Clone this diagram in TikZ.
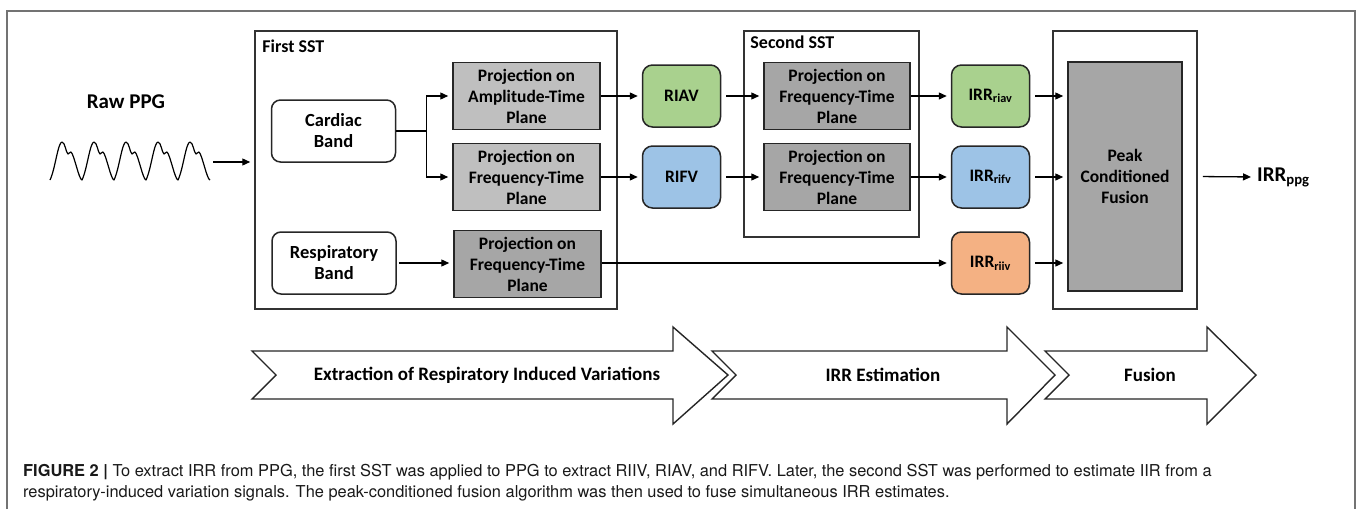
\documentclass[tikz,border=0pt]{standalone}
\usepackage{fontspec}
\setmainfont{Carlito}
\newfontfamily\capfont{TeX Gyre Heros}
\usepackage{xcolor}
\usetikzlibrary{arrows.meta}
\usetikzlibrary{positioning}
\definecolor{projlight}{HTML}{BFBFBF}
\definecolor{projdark}{HTML}{A6A6A6}
\definecolor{riavgreen}{HTML}{A9D18E}
\definecolor{rifvblue}{HTML}{9DC3E6}
\definecolor{riivred}{HTML}{F4B183}

\begin{document}
\begin{tikzpicture}[x=1pt,y=-1pt]
\tikzset{bandbox/.style={rectangle,rounded corners=9pt,draw=black!85,line width=1.5pt,minimum width=124pt,minimum height=62pt,align=center,font=\fontsize{18.5}{21}\selectfont\bfseries},
projbox/.style={rectangle,draw=black!85,line width=1.5pt,fill=projlight,minimum width=147pt,minimum height=67pt,align=center,inner sep=0pt,font=\fontsize{17.5}{21}\selectfont\bfseries},
sigbox/.style={rectangle,rounded corners=10pt,draw=black!85,line width=1.5pt,minimum width=78pt,minimum height=62pt,align=center,font=\fontsize{17.5}{21}\selectfont\bfseries},
sstframe/.style={rectangle,draw=black!80,line width=1.5pt,inner sep=0pt},
flow/.style={line width=1.3pt,-{Triangle[length=8pt,width=7pt]},shorten <=5pt,shorten >=4pt},
stagearrow/.style={draw=black!85,line width=1.4pt,fill=white,line join=miter},
stagelabel/.style={font=\fontsize{19}{22}\selectfont\bfseries},
caption/.style={inner sep=0pt,text=black!90,font=\capfont\fontsize{16.4}{21}\selectfont}}
\useasboundingbox (0,0) rectangle (1357,509);
\draw[black!55,line width=1.2pt] (7,509) -- (7,11) -- (1355,11) -- (1355,509);
\node[sstframe,minimum width=362pt,minimum height=278pt](sst1) at (436,170){};
\node[sstframe,minimum width=175pt,minimum height=206pt](sst2) at (831.5,134){};
\node[sstframe,minimum width=144pt,minimum height=278pt](fusframe) at (1125,170){};
\node[anchor=west,font=\fontsize{18}{21}\selectfont\bfseries,inner sep=0pt] at ([xshift=8pt,yshift=-16pt]sst1.north west){First SST};
\node[anchor=west,font=\fontsize{18}{21}\selectfont\bfseries,inner sep=0pt] at ([xshift=7pt,yshift=-12pt]sst2.north west){Second SST};
\node[font=\fontsize{21}{25}\selectfont\bfseries](raw) at (126,102){Raw PPG};
\draw[line width=1.2pt,line join=round] (50,180) \foreach \k [evaluate=\k as \o using 50+32*\k] in {0,...,4}{
 .. controls ({\o+5},170) and ({\o+8},142) .. ({\o+12},142)
 .. controls ({\o+15},142) and ({\o+16},153) .. ({\o+18},154)
 .. controls ({\o+19},154.5) and ({\o+20},151) .. ({\o+21},152)
 .. controls ({\o+24},154) and ({\o+29},180) .. ({\o+32},180)};
\coordinate (ppgout) at (208,162);
\node[bandbox](card) at (333.5,131){Cardiac\\Band};
\node[bandbox](resp) at (334,263){Respiratory\\Band};
\node[projbox](proj1) at (526.5,96){Projection on\\Amplitude-Time\\Plane};
\node[projbox](proj2) at (526.5,177){Projection on\\Frequency-Time\\Plane};
\node[projbox,fill=projdark](proj3) at (527.5,264){Projection on\\Frequency-Time\\Plane};
\node[sigbox,fill=riavgreen](riav)[right=41pt of proj1]{RIAV};
\node[sigbox,fill=rifvblue](rifv)[right=41pt of proj2]{RIFV};
\node[projbox,fill=projdark,minimum width=146pt](proj4)[right=42pt of riav]{Projection on\\Frequency-Time\\Plane};
\node[projbox,fill=projdark,minimum width=146pt](proj5)[right=42pt of rifv]{Projection on\\Frequency-Time\\Plane};
\node[sigbox,fill=riavgreen](irriav)[right=40pt of proj4]{IRR\textsubscript{riav}};
\node[sigbox,fill=rifvblue](irrifv)[right=40pt of proj5]{IRR\textsubscript{rifv}};
\node[sigbox,fill=riivred](irriiv) at (irrifv |- resp){IRR\textsubscript{riiv}};
\node[projbox,fill=projdark,minimum width=114pt,minimum height=229pt](fusion) at (1125,176.5){Peak\\Conditioned\\Fusion};
\node[anchor=west,inner sep=2pt,font=\fontsize{21}{25}\selectfont\bfseries](irrppg) at (1255,177){IRR\textsubscript{ppg}};
\draw[flow] (ppgout) -- (ppgout -| sst1.west);
\draw[line width=1.3pt,shorten <=0pt] (card.east) -- ++(30,0) coordinate (split);
\draw[flow,shorten <=0pt] (split) |- (proj1.west);
\draw[flow,shorten <=0pt] (split) |- (proj2.west);
\draw[flow,shorten <=2pt] (resp.east) -- (proj3.west |- resp);
\draw[flow,shorten <=0pt] (proj1.east) -- (riav.west);
\draw[flow,shorten <=0pt] (proj2.east) -- (rifv.west);
\draw[flow] (riav.east) -- (proj4.west);
\draw[flow] (rifv.east) -- (proj5.west);
\draw[flow,shorten <=0pt] (proj4.east) -- (irriav.west);
\draw[flow,shorten <=0pt] (proj5.east) -- (irrifv.west);
\draw[flow,shorten <=0pt] (proj3.east |- resp) -- (irriiv.west);
\draw[flow] (irriav.east) -- (fusion.west |- irriav);
\draw[flow] (irrifv.east) -- (fusion.west |- irrifv);
\draw[flow] (irriiv.east) -- (fusion.west |- irriiv);
\draw[flow] (fusframe.east |- fusion) -- (irrppg.west);
\foreach \l/\h/\t/\c/\name/\txt in {252/673/728/487/stage1/Extraction of Respiratory Induced Variations,712/1007/1055/883/stage2/IRR Estimation,1045/1207/1256/1150/stage3/Fusion}{
 \draw[stagearrow] (\l,351) -- (\h,351) -- (\h,327) -- (\t,375) -- (\h,424) -- (\h,399) -- (\l,399) -- ({\l+24},375) -- cycle;
 \node[stagelabel](\name) at (\c,375){\txt};
}
\node[caption,anchor=base west](cap1) at (23,476){\textbf{FIGURE 2 |} To extract IRR from PPG, the first SST was applied to PPG to extract RIIV, RIAV, and RIFV. Later, the second SST was performed to estimate IIR from a};
\node[caption,anchor=base west](cap2) at ([yshift=-21pt]cap1.base west){respiratory-induced variation signals. The peak-conditioned fusion algorithm was then used to fuse simultaneous IRR estimates.};
\end{tikzpicture}
\end{document}
